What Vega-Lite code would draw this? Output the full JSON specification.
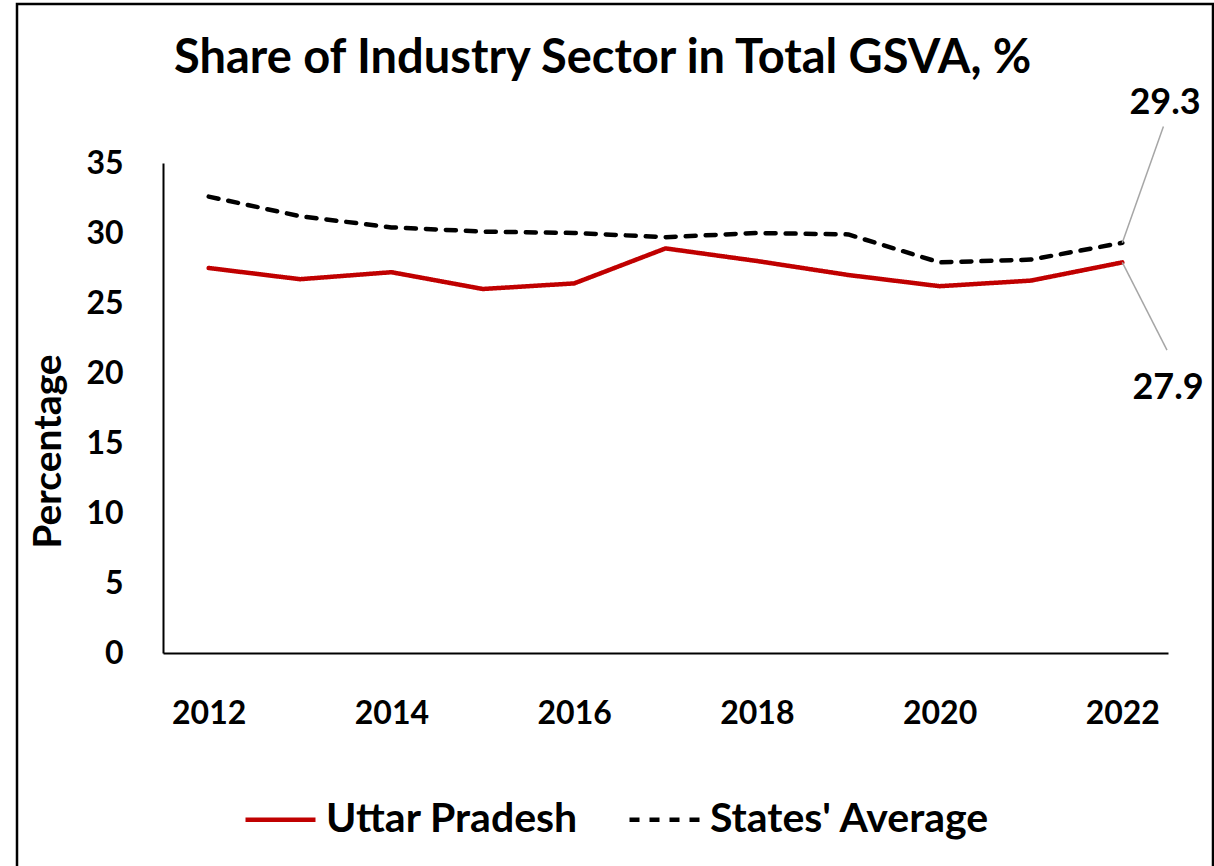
{
  "$schema": "https://vega.github.io/schema/vega-lite/v6.json",
  "width": 1005,
  "height": 490,
  "autosize": {"type": "none"},
  "padding": {"left": 163, "top": 163, "right": 46, "bottom": 213},
  "background": "white",
  "config": {"view": {"stroke": null}, "font": "Lato"},
  "title": {
    "text": "Share of Industry Sector in Total GSVA, %",
    "font": "Lato", "fontSize": 47, "fontWeight": "bold", "color": "#000000",
    "anchor": "start", "frame": "group", "dx": 11, "offset": 0, "dy": 117, "baseline": "alphabetic"
  },
  "data": {
    "values": [
      {"year": 2012, "series": "Uttar Pradesh", "value": 27.5},
      {"year": 2013, "series": "Uttar Pradesh", "value": 26.7},
      {"year": 2014, "series": "Uttar Pradesh", "value": 27.2},
      {"year": 2015, "series": "Uttar Pradesh", "value": 26.0},
      {"year": 2016, "series": "Uttar Pradesh", "value": 26.4},
      {"year": 2017, "series": "Uttar Pradesh", "value": 28.9},
      {"year": 2018, "series": "Uttar Pradesh", "value": 28.0},
      {"year": 2019, "series": "Uttar Pradesh", "value": 27.0},
      {"year": 2020, "series": "Uttar Pradesh", "value": 26.2},
      {"year": 2021, "series": "Uttar Pradesh", "value": 26.6},
      {"year": 2022, "series": "Uttar Pradesh", "value": 27.9},
      {"year": 2012, "series": "States' Average", "value": 32.6},
      {"year": 2013, "series": "States' Average", "value": 31.2},
      {"year": 2014, "series": "States' Average", "value": 30.4},
      {"year": 2015, "series": "States' Average", "value": 30.1},
      {"year": 2016, "series": "States' Average", "value": 30.0},
      {"year": 2017, "series": "States' Average", "value": 29.7},
      {"year": 2018, "series": "States' Average", "value": 30.0},
      {"year": 2019, "series": "States' Average", "value": 29.9},
      {"year": 2020, "series": "States' Average", "value": 27.9},
      {"year": 2021, "series": "States' Average", "value": 28.1},
      {"year": 2022, "series": "States' Average", "value": 29.3}
    ]
  },
  "layer": [
    {
      "mark": {"type": "line", "strokeWidth": 4.5, "strokeCap": "round", "strokeJoin": "round"},
      "encoding": {
        "x": {
          "field": "year", "type": "quantitative",
          "scale": {"domain": [2011.5, 2022.5], "nice": false, "zero": false},
          "axis": {
            "values": [2012, 2014, 2016, 2018, 2020, 2022], "format": "d", "title": null,
            "labelFont": "Lato", "labelFontSize": 32, "labelFontWeight": "bold", "labelColor": "#000000",
            "ticks": false, "grid": false, "domainColor": "#000000", "domainWidth": 2,
            "labelPadding": 45, "labelFlush": false
          }
        },
        "y": {
          "field": "value", "type": "quantitative",
          "scale": {"domain": [0, 35], "nice": false},
          "axis": {
            "values": [0, 5, 10, 15, 20, 25, 30, 35], "title": "Percentage",
            "labelFont": "Lato", "labelFontSize": 32, "labelFontWeight": "bold", "labelColor": "#000000",
            "ticks": false, "grid": false, "domainColor": "#000000", "domainWidth": 2,
            "labelPadding": 40,
            "titleFont": "Lato", "titleFontSize": 39, "titleFontWeight": "bold", "titleColor": "#000000",
            "titleX": -115, "titleY": 288, "titleAngle": 270, "titleAlign": "center", "titleBaseline": "middle"
          }
        },
        "color": {
          "field": "series", "type": "nominal",
          "scale": {"domain": ["Uttar Pradesh", "States' Average"], "range": ["#C00000", "#000000"]},
          "legend": {
            "title": null, "orient": "none", "legendX": 80, "legendY": 619, "direction": "horizontal",
            "symbolType": "stroke", "symbolSize": 4900, "symbolStrokeWidth": 4.5,
            "labelFont": "Lato", "labelFontSize": 41, "labelFontWeight": "bold", "labelColor": "#000000",
            "labelOffset": 8, "columnPadding": 41, "labelLimit": 500
          }
        },
        "strokeDash": {
          "field": "series", "type": "nominal",
          "scale": {"domain": ["Uttar Pradesh", "States' Average"], "range": [[1, 0], [10, 10]]},
          "legend": {
            "title": null, "orient": "none", "legendX": 80, "legendY": 619, "direction": "horizontal",
            "symbolType": "stroke", "symbolSize": 4900, "symbolStrokeWidth": 4.5,
            "labelFont": "Lato", "labelFontSize": 41, "labelFontWeight": "bold", "labelColor": "#000000",
            "labelOffset": 8, "columnPadding": 41, "labelLimit": 500
          }
        }
      }
    },
    {
      "transform": [{"filter": {"and": [{"field": "series", "equal": "States' Average"}, {"field": "year", "equal": 2022}]}}],
      "mark": {"type": "rule", "color": "#A6A6A6", "strokeWidth": 1.5},
      "encoding": {
        "x": {"field": "year", "type": "quantitative"},
        "y": {"field": "value", "type": "quantitative"},
        "x2": {"datum": 2022.45},
        "y2": {"datum": 37.6}
      }
    },
    {
      "transform": [{"filter": {"and": [{"field": "series", "equal": "Uttar Pradesh"}, {"field": "year", "equal": 2022}]}}],
      "mark": {"type": "rule", "color": "#A6A6A6", "strokeWidth": 1.5},
      "encoding": {
        "x": {"field": "year", "type": "quantitative"},
        "y": {"field": "value", "type": "quantitative"},
        "x2": {"datum": 2022.489},
        "y2": {"datum": 21.64}
      }
    },
    {
      "transform": [{"filter": {"and": [{"field": "series", "equal": "States' Average"}, {"field": "year", "equal": 2022}]}}],
      "mark": {"type": "text", "font": "Lato", "fontSize": 36, "fontWeight": "bold", "color": "#000000", "align": "center", "baseline": "middle"},
      "encoding": {
        "x": {"datum": 2022.467, "type": "quantitative"},
        "y": {"datum": 39.3, "type": "quantitative"},
        "text": {"field": "value", "type": "quantitative", "format": ".1f"}
      }
    },
    {
      "transform": [{"filter": {"and": [{"field": "series", "equal": "Uttar Pradesh"}, {"field": "year", "equal": 2022}]}}],
      "mark": {"type": "text", "font": "Lato", "fontSize": 36, "fontWeight": "bold", "color": "#000000", "align": "center", "baseline": "middle"},
      "encoding": {
        "x": {"datum": 2022.5, "type": "quantitative"},
        "y": {"datum": 18.9, "type": "quantitative"},
        "text": {"field": "value", "type": "quantitative", "format": ".1f"}
      }
    },
    {
      "data": {"values": [{}]},
      "mark": {"type": "rect", "fill": null, "stroke": "#000000", "strokeWidth": 2.5},
      "encoding": {
        "x": {"datum": 2009.902, "type": "quantitative"},
        "x2": {"datum": 2022.9925},
        "y": {"datum": 46.357, "type": "quantitative"},
        "y2": {"datum": -16}
      }
    }
  ]
}
